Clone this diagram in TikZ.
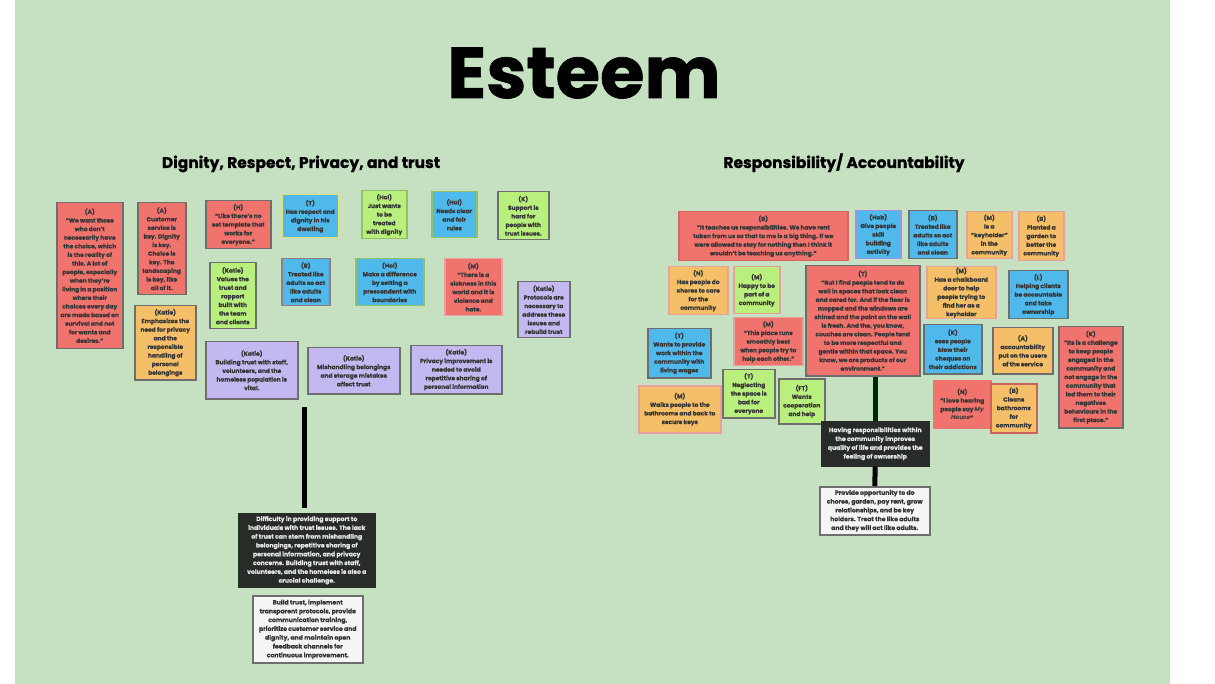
\documentclass[tikz,border=0pt]{standalone}
\usepackage{fontspec}
\setmainfont{Poppins}[BoldFeatures={FakeBold=1}]
\usetikzlibrary{positioning,calc}
\definecolor{bggreen}{RGB}{197,225,194}
\definecolor{cred}{RGB}{240,115,110}
\definecolor{cblue}{RGB}{80,185,235}
\definecolor{clime}{RGB}{185,240,125}
\definecolor{corange}{RGB}{245,190,105}
\definecolor{cpurple}{RGB}{195,185,240}
\definecolor{cdark}{RGB}{40,44,40}
\definecolor{cline}{RGB}{110,110,110}
\definecolor{cpink}{RGB}{235,160,160}
\definecolor{cyell}{RGB}{232,224,112}
\definecolor{cviolet}{RGB}{160,145,225}
\definecolor{ctext}{RGB}{55,55,55}

\tikzset{
  card/.style={draw=cline, line width=1.5pt, anchor=north west, align=center,
    inner sep=1pt, text=ctext, font=\fontsize{5.9}{8.6}\selectfont\bfseries},
  box/.style 2 args={minimum width=#1, minimum height=#2},
  darkbox/.style={card, fill=cdark, draw=cdark, text=white!90!black,
    font=\fontsize{6.1}{8.8}\selectfont\bfseries},
  whitebox/.style={card, fill=white!96!black, draw=cline,
    font=\fontsize{6.1}{8.8}\selectfont\bfseries},
  bar/.style={line width=5pt, black}
}

\begin{document}
\begin{tikzpicture}[x=1pt,y=-1pt]
  \useasboundingbox (0,0) rectangle (1215,684);
  \fill[white] (0,0) rectangle (1215,684);
  \fill[bggreen] (15,0) rectangle (1170,684);

  % Title and headings
  \node[font=\fontsize{72}{76}\selectfont\bfseries, anchor=base] (title) at (584,98) {Esteem};
  \node[font=\fontsize{15.5}{17}\selectfont\bfseries, anchor=base] (hleft) at (301,168) {Dignity, Respect, Privacy, and trust};
  \node[font=\fontsize{15.5}{17}\selectfont\bfseries, anchor=base] (hright) at (844,168) {Responsibility/ Accountability};

  % Dignity cluster
  \node[card, fill=cred, box={66}{146}] (dA1) at (56,202) {(A)\\``We want those\\who don't\\necessarily have\\the choice, which\\is the reality of\\this. A lot of\\people, especially\\when they're\\living in a position\\where their\\choices every day\\are made based on\\survival and not\\for wants and\\desires.''};
  \node[card, fill=cred, box={48}{92}] (dA2) at (137,202) {(A)\\Customer\\service is\\key. Dignity\\is key.\\Choice is\\key. The\\landscaping\\is key, like\\all of it.};
  \node[card, fill=corange, box={61}{74}] (dKpriv) at (134,305) {(Katie)\\Emphasizes the\\need for privacy\\and the\\responsible\\handling of\\personal\\belongings};
  \node[card, fill=cred, box={65}{48}] (dH) at (205,200) {(H)\\``Like there's no\\set template that\\works for\\everyone.''};
  \node[card, fill=cblue, draw=cyell, box={57}{43}] (dT) at (281,194) {(T)\\Has respect and\\dignity in his\\dwelling};
  \node[card, fill=clime, draw=clime!80!black, box={45}{48}] (dHol1) at (361,190) {(Hol)\\Just wants\\to be\\treated\\with dignity};
  \node[card, fill=cblue, draw=clime!80!black, box={45}{46}] (dHol2) at (431,191) {(Hol)\\Needs clear\\and fair\\rules};
  \node[card, fill=clime, box={51}{48}] (dK) at (497,191) {(K)\\Support is\\hard for\\people with\\trust issues.};
  \node[card, fill=clime, box={46}{66}] (dKval) at (209,262) {(Katie)\\Values the\\trust and\\rapport\\built with\\the team\\and clients};
  \node[card, fill=cblue, draw=cline!70!cpink, box={48}{47}] (dB) at (281,258) {(B)\\Treated like\\adults so act\\like adults\\and clean};
  \node[card, fill=cblue, draw=clime!80!black, box={68}{47}] (dHol3) at (355,258) {(Hol)\\Make a difference\\by setting a\\prescendent with\\boundaries};
  \node[card, fill=cred, draw=cpink, box={57}{57}] (dM) at (444,258) {(M)\\``There is a\\sickness in this\\world and it is\\violence and\\hate.};
  \node[card, fill=cpurple, box={52}{56}] (dKprot) at (517,281) {(Katie)\\Protocols are\\necessary to\\address these\\issues and\\rebuild trust};
  \node[card, fill=cpurple, box={92}{57}] (dKbuild) at (205,341) {(Katie)\\Building trust with staff,\\volunteers, and the\\homeless population is\\vital.};
  \node[card, fill=cpurple, box={92}{46}] (dKmis) at (307,347) {(Katie)\\Mishandling belongings\\and storage mistakes\\affect trust};
  \node[card, fill=cpurple, box={91}{48}] (dKimp) at (410,345) {(Katie)\\Privacy improvement is\\needed to avoid\\repetitive sharing of\\personal information};

  % Dignity summary
  \node[darkbox, box={136}{73}] (dSum) at (238,513) {Difficulty in providing support to\\individuals with trust issues. The lack\\of trust can stem from mishandling\\belongings, repetitive sharing of\\personal information, and privacy\\concerns. Building trust with staff,\\volunteers, and the homeless is also a\\crucial challenge.};
  \node[whitebox, box={110}{67}] (dAct) at (252,595) {Build trust, implement\\transparent protocols, provide\\communication training,\\prioritize customer service and\\dignity, and maintain open\\feedback channels for\\continuous improvement.};
  \coordinate (dTop) at (304,407);
  \draw[bar] (dTop) -- ([yshift=5pt]dTop |- dSum.north);

  % Responsibility cluster
  \node[card, fill=cred, draw=cred!90!black, box={169}{49}] (rB1) at (678,211) {(B)\\``It teaches us responsibilities. We have rent\\taken from us so that to me is a big thing. If we\\were allowed to stay for nothing then I think it\\wouldn't be teaching us anything.''};
  \node[card, fill=cblue, draw=cviolet, box={45}{48}] (rHob) at (855,210) {(Hob)\\Give people\\skill\\building\\activity};
  \node[card, fill=cblue, box={48}{48}] (rB2) at (908,210) {(B)\\Treated like\\adults so act\\like adults\\and clean};
  \node[card, fill=corange, draw=cpink, box={45}{47}] (rM1) at (966,211) {(M)\\Is a\\``keyholder''\\in the\\community};
  \node[card, fill=corange, draw=cpink, box={45}{49}] (rB3) at (1018,211) {(B)\\Planted a\\garden to\\better the\\community};
  \node[card, fill=corange, draw=cpink, box={59}{48}] (rN1) at (668,266) {(N)\\Has people do\\chores to care\\for the\\community};
  \node[card, fill=clime, draw=cpink, box={46}{47}] (rM2) at (733,266) {(M)\\Happy to be\\part of a\\community};
  \node[card, fill=cred, box={114}{110}] (rT1) at (805,265) {(T)\\``But I find people tend to do\\well in spaces that look clean\\and cared for. And if the floor is\\mopped and the windows are\\shined and the paint on the wall\\is fresh. And the, you know,\\couches are clean. People tend\\to be more respectful and\\gentle within that space. You\\know, we are products of our\\environment.''};
  \node[card, fill=corange, draw=cpink, box={69}{51}] (rM3) at (926,266) {(M)\\Has a chalkboard\\door to help\\people trying to\\find her as a\\keyholder};
  \node[card, fill=cblue, box={59}{48}] (rL) at (1008,270) {(L)\\Helping clients\\be accountable\\and take\\ownership};
  \node[card, fill=cred, draw=cpink, box={69}{48}] (rM4) at (733,317) {(M)\\``This place runs\\smoothly best\\when people try to\\help each other.''};
  \node[card, fill=cblue, box={63}{49}] (rT2) at (647,328) {(T)\\Wants to provide\\work within the\\community with\\living wages};
  \node[card, fill=cblue, box={58}{49}] (rK1) at (923,324) {(K)\\sees people\\blow their\\cheques on\\their addictions};
  \node[card, fill=corange, box={60}{46}] (rA) at (992,327) {(A)\\accountability\\put on the users\\of the service};
  \node[card, fill=cred, box={64}{101}] (rK2) at (1058,326) {(K)\\``Its is a challenge\\to keep people\\engaged in the\\community and\\not engage in the\\community that\\led them to their\\negatives\\behaviours in the\\first place.''};
  \node[card, fill=corange, draw=cpink, box={82}{47}] (rM5) at (638,385) {(M)\\Walks people to the\\bathrooms and back to\\secure keys};
  \node[card, fill=clime, box={52}{48}] (rT3) at (722,369) {(T)\\Neglecting\\the space is\\bad for\\everyone};
  \node[card, fill=clime, box={46}{45}] (rFT) at (778,378) {(FT)\\Wants\\cooperation\\and help};
  \node[card, fill=cred, draw=cred, box={57}{47}] (rN2) at (933,380) {(N)\\``I love hearing\\people say \textit{My}\\\textit{House}''};
  \node[card, fill=corange, draw=cred!85!black, box={46}{49}] (rB4) at (990,383) {(B)\\Cleans\\bathrooms\\for\\community};

  % Responsibility summary
  \node[darkbox, box={107}{44}] (rSum) at (821,421) {Having responsibilities within\\the community improves\\quality of life and provides the\\feeling of ownership};
  \node[whitebox, box={110}{48}] (rAct) at (819,486) {Provide opportunity to do\\chores, garden, pay rent, grow\\relationships, and be key\\holders. Treat the like adults\\and they will act like adults.};
  \draw[bar, black!85!green] (rSum.north) -- (rSum.north |- rT1.south);
  \draw[bar] (rSum.south) -- (rAct.north);
\end{tikzpicture}
\end{document}
